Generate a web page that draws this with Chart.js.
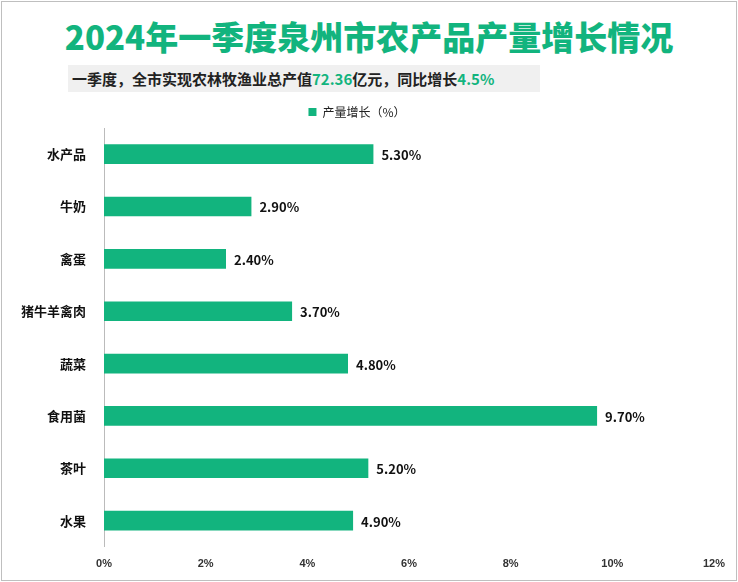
<!DOCTYPE html>
<html><head><meta charset="utf-8">
<script src="https://cdn.jsdelivr.net/npm/chart.js@4/dist/chart.umd.min.js"></script>
<style>
body{margin:0;width:738px;height:582px;overflow:hidden;font-family:"Noto Sans CJK SC",sans-serif;background:#fff}
#frame{position:absolute;left:1px;top:1px;width:734px;height:578px;border:1px solid #bfbfbf}
#title{position:absolute;left:0;width:738px;top:12px;text-align:center;font-size:33px;font-weight:900;color:#12b47e}
#sub{position:absolute;left:68px;top:65px;width:472px;height:27px;background:#f0f0f0;font-size:15px;font-weight:bold;color:#222;line-height:27px;padding-left:4px;box-sizing:border-box}
#sub span{color:#12b47e}
#wrap{position:absolute;left:0;top:98px;width:738px;height:482px}
</style></head><body>
<div id="frame"></div>
<div id="title">2024年一季度泉州市农产品产量增长情况</div>
<div id="sub">一季度，全市实现农林牧渔业总产值<span>72.36</span>亿元，同比增长<span>4.5%</span></div>
<div id="wrap"><canvas id="c"></canvas></div>
<script>
const categories=["水产品","牛奶","禽蛋","猪牛羊禽肉","蔬菜","食用菌","茶叶","水果"];
const values=[5.3,2.9,2.4,3.7,4.8,9.7,5.2,4.9];
const seriesName="产量增长（%）";
const labelPlugin={id:"lbl",afterDatasetsDraw(ch){const c=ch.ctx;const m=ch.getDatasetMeta(0);c.save();c.font="bold 13px 'Noto Sans CJK SC'";c.fillStyle="#111";c.textBaseline="middle";m.data.forEach((b,i)=>{c.fillText(values[i].toFixed(2)+"%",b.x+8,b.y+1);});c.restore();}};
new Chart(document.getElementById("c"),{type:"bar",
data:{labels:categories,datasets:[{label:seriesName,data:values,backgroundColor:"#12b47e",barPercentage:0.75,categoryPercentage:0.5}]},
options:{indexAxis:"y",responsive:true,maintainAspectRatio:false,animation:false,
layout:{padding:{left:0,right:24,top:0,bottom:6}},
plugins:{legend:{position:"top",labels:{boxWidth:8,boxHeight:8,font:{size:12,family:"Noto Sans CJK SC"},color:"#222",padding:8}},tooltip:{enabled:false}},
scales:{x:{min:0,max:12,ticks:{stepSize:2,callback:v=>v+"%",font:{size:11,weight:"bold"},color:"#333"},grid:{display:false},border:{display:false}},
y:{afterFit(s){s.width=104;},ticks:{padding:10,font:{size:13,weight:"bold",family:"Noto Sans CJK SC"},color:"#111"},grid:{display:false},border:{color:"#bbb"}}}},
plugins:[labelPlugin]});
</script></body></html>
